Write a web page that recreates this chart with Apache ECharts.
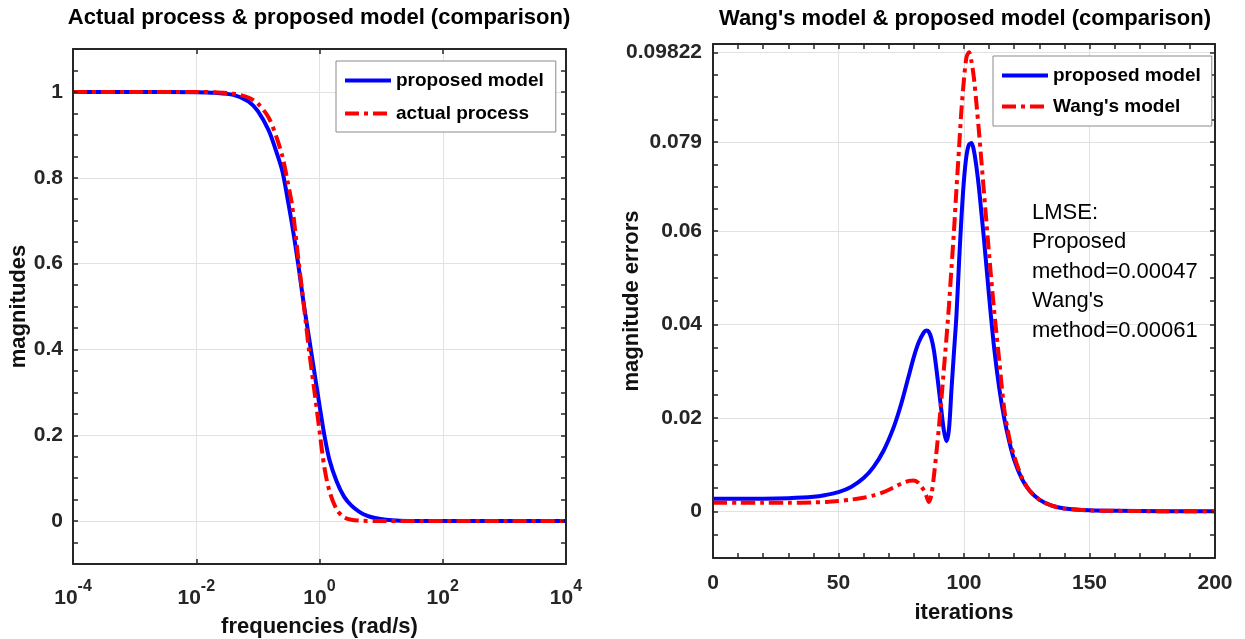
<!DOCTYPE html>
<html>
<head>
<meta charset="utf-8">
<script src="https://cdn.jsdelivr.net/npm/echarts@6/dist/echarts.min.js"></script>
<style>
  html, body { margin: 0; padding: 0; background: #fff; }
  #chart { width: 1245px; height: 639px; }
</style>
</head>
<body>
<div id="chart"></div>
<script>
const FONT = '"Liberation Sans", Arial, Helvetica, sans-serif';
const INK = '#262626';
const GRID_INK = '#e2e2e2';
const BLUE = '#0000ff';
const RED = '#ff0000';

// ---- Left panel: magnitude response over frequency (rad/s) ----
const frequencies = [1e-4, 1e-3, 0.01, 0.02, 0.04, 0.07, 0.1, 0.15, 0.2, 0.25, 0.3, 0.36, 0.45,
  0.55, 0.68, 0.85, 1.0, 1.2, 1.45, 1.9, 2.5, 3.3, 4.5, 6, 8, 12, 20, 50, 100, 1e3, 1e4];
const proposedMagnitude = [1, 1, 0.9995, 0.998, 0.993, 0.978, 0.955, 0.91, 0.86, 0.815, 0.755, 0.69, 0.60,
  0.51, 0.425, 0.335, 0.27, 0.20, 0.143, 0.092, 0.057, 0.036, 0.021, 0.012, 0.007, 0.003, 0.001, 0.0002, 0, 0, 0];
const actualMagnitude = [1, 1, 1, 0.999, 0.996, 0.987, 0.973, 0.94, 0.895, 0.85, 0.795, 0.735, 0.615,
  0.51, 0.395, 0.29, 0.21, 0.125, 0.07, 0.027, 0.009, 0.003, 0.001, 0.0003, 0.0001, 0, 0, 0, 0, 0, 0];

const freqLabelTicks = [1e-4, 1e-2, 1, 1e2, 1e4];
const freqGridTicks = [1e-2, 1, 1e2];
const magLabelTicks = [0, 0.2, 0.4, 0.6, 0.8, 1];
const magGridTicks = [0, 0.2, 0.4, 0.6, 0.8, 1];
const magTickMarks = [-0.05, 0, 0.05, 0.1, 0.15, 0.2, 0.25, 0.3, 0.35, 0.4, 0.45, 0.5, 0.55,
  0.6, 0.65, 0.7, 0.75, 0.8, 0.85, 0.9, 0.95, 1, 1.05];

// ---- Right panel: magnitude errors over iterations ----
const iterations = [0, 10, 20, 30, 40, 45, 50, 55, 60, 64, 68, 72, 75, 78, 80, 82, 84, 85, 86, 87, 88, 89,
  90, 91, 92, 93, 94, 95, 96, 97, 98, 99, 100, 101, 102, 103, 104, 105, 106, 107, 108, 110, 112, 114,
  116, 118, 120, 123, 126, 130, 135, 140, 150, 160, 180, 200];
const proposedError = [0.0027, 0.0027, 0.0027, 0.0028, 0.0031, 0.0035, 0.0041, 0.0052, 0.0071, 0.0095,
  0.013, 0.018, 0.023, 0.029, 0.033, 0.0362, 0.0383, 0.0387, 0.0384, 0.037, 0.0345, 0.0305,
  0.026, 0.0215, 0.0172, 0.015, 0.0175, 0.026, 0.034, 0.042, 0.053, 0.063, 0.071, 0.0762, 0.0785,
  0.0788, 0.077, 0.0735, 0.069, 0.0635, 0.058, 0.046, 0.035, 0.0265,
  0.02, 0.015, 0.011, 0.007, 0.0045, 0.0025, 0.0012, 0.0006, 0.0002, 0.0001, 0, 0];
const wangError = [0.0018, 0.0018, 0.0018, 0.0018, 0.0019, 0.002, 0.0022, 0.0025, 0.0029, 0.0034,
  0.0041, 0.0051, 0.0059, 0.0065, 0.0066, 0.006, 0.0045, 0.0033, 0.002, 0.0035, 0.0075, 0.0125,
  0.018, 0.024, 0.0305, 0.037, 0.044, 0.052, 0.06, 0.069, 0.0775, 0.086, 0.0925, 0.0972, 0.09822,
  0.0962, 0.0925, 0.087, 0.081, 0.0745, 0.068, 0.055, 0.043, 0.0325,
  0.022, 0.0158, 0.0118, 0.0073, 0.0045, 0.0025, 0.0012, 0.0006, 0.0002, 0.0001, 0, 0];

const iterLabelTicks = [0, 50, 100, 150, 200];
const iterGridTicks = [50, 100, 150];
const iterTickMarks = [0, 10, 20, 30, 40, 50, 60, 70, 80, 90, 100, 110, 120, 130, 140, 150, 160,
  170, 180, 190, 200];
const errLabelTicks = [0, 0.02, 0.04, 0.06, 0.079, 0.09822];
const errGridTicks = [0, 0.02, 0.04, 0.06, 0.079, 0.09822];
const errTickMarks = [-0.005, 0, 0.005, 0.01, 0.015, 0.02, 0.025, 0.03, 0.035, 0.04, 0.045, 0.05,
  0.055, 0.06, 0.06475, 0.0695, 0.07425, 0.079, 0.083805, 0.08861, 0.093415, 0.09822];

const lmseNote = ['LMSE:', 'Proposed', 'method=0.00047', "Wang's", 'method=0.00061'];

const tickLabelStyle = { fontFamily: FONT, fontSize: 21, fontWeight: 'bold', color: INK };
const axisNameStyle = { fontFamily: FONT, fontSize: 22, fontWeight: 'bold', color: '#111' };

// Box edge with inward ticks (MATLAB-style frame)
function frameAxis(opts) {
  return Object.assign({
    axisLine: { show: true, onZero: false, lineStyle: { color: INK, width: 2 } },
    axisTick: { show: true, inside: true, length: 5, customValues: opts.marks,
      lineStyle: { color: INK, width: 1.5 } },
    axisLabel: { show: false },
    splitLine: { show: false },
    nameMoveOverlap: false,
    z: 4
  }, opts.base);
}
// Invisible axis that only draws the light grid lines
function gridAxis(opts) {
  return Object.assign({
    axisLine: { show: false },
    axisTick: { show: false, customValues: opts.lines },
    axisLabel: { show: false },
    splitLine: { show: true, lineStyle: { color: GRID_INK, width: 1 } },
    z: 1
  }, opts.base);
}

const logX = { type: 'log', logBase: 10, min: 1e-4, max: 1e4, gridIndex: 0 };
const iterX = { type: 'value', min: 0, max: 200, gridIndex: 1 };
const magY = { type: 'value', min: -0.1, max: 1.1, gridIndex: 0 };
const errY = { type: 'value', min: -0.01, max: 0.1, gridIndex: 1 };

const xAxes = [
  // left panel: bottom (labelled), top, grid lines
  Object.assign(frameAxis({ base: Object.assign({ position: 'bottom' }, logX), marks: freqLabelTicks }), {
    name: 'frequencies (rad/s)', nameLocation: 'middle', nameGap: 52, nameTextStyle: axisNameStyle,
    axisLabel: {
      show: true, customValues: freqLabelTicks, margin: 15,
      formatter: v => '{b|10}{s|' + Math.round(Math.log10(v)) + '}',
      rich: {
        b: { fontFamily: FONT, fontSize: 21, fontWeight: 'bold', color: INK, lineHeight: 38, verticalAlign: 'middle' },
        s: { fontFamily: FONT, fontSize: 16, fontWeight: 'bold', color: INK, lineHeight: 16, verticalAlign: 'top' }
      }
    }
  }),
  frameAxis({ base: Object.assign({ position: 'top' }, logX), marks: freqLabelTicks }),
  gridAxis({ base: Object.assign({ position: 'bottom' }, logX), lines: freqGridTicks }),
  // right panel
  Object.assign(frameAxis({ base: Object.assign({ position: 'bottom' }, iterX), marks: iterTickMarks }), {
    name: 'iterations', nameLocation: 'middle', nameGap: 44, nameTextStyle: axisNameStyle,
    axisLabel: Object.assign({ show: true, customValues: iterLabelTicks, margin: 15 }, tickLabelStyle)
  }),
  frameAxis({ base: Object.assign({ position: 'top' }, iterX), marks: iterTickMarks }),
  gridAxis({ base: Object.assign({ position: 'bottom' }, iterX), lines: iterGridTicks })
];

const yAxes = [
  Object.assign(frameAxis({ base: Object.assign({ position: 'left' }, magY), marks: magTickMarks }), {
    name: 'magnitudes', nameLocation: 'middle', nameGap: 43, nameTextStyle: axisNameStyle,
    axisLabel: Object.assign({ show: true, customValues: magLabelTicks, margin: 10,
      formatter: v => String(v) }, tickLabelStyle)
  }),
  frameAxis({ base: Object.assign({ position: 'right' }, magY), marks: magTickMarks }),
  gridAxis({ base: Object.assign({ position: 'left' }, magY), lines: magGridTicks }),
  Object.assign(frameAxis({ base: Object.assign({ position: 'left' }, errY), marks: errTickMarks }), {
    name: 'magnitude errors', nameLocation: 'middle', nameGap: 70, nameTextStyle: axisNameStyle,
    axisLabel: Object.assign({ show: true, customValues: errLabelTicks, margin: 11,
      formatter: v => String(v) }, tickLabelStyle)
  }),
  frameAxis({ base: Object.assign({ position: 'right' }, errY), marks: errTickMarks }),
  gridAxis({ base: Object.assign({ position: 'left' }, errY), lines: errGridTicks })
];

function pairs(xs, ys) { return xs.map((x, i) => [x, ys[i]]); }

const legendText = { fontFamily: FONT, fontSize: 19, fontWeight: 'bold', color: '#000' };
const legendBase = {
  orient: 'vertical', itemWidth: 46, itemHeight: 20, backgroundColor: '#fff',
  borderColor: '#8a8a8a', borderWidth: 1, borderRadius: 0, textStyle: legendText,
  lineStyle: { width: 4 }, itemStyle: { opacity: 0 }, selectedMode: false, z: 10
};

const option = {
  animation: false,
  backgroundColor: '#fff',
  title: [
    { text: 'Actual process & proposed model (comparison)', left: 319, top: 7, textAlign: 'center', padding: 0,
      textStyle: { fontFamily: FONT, fontSize: 22, fontWeight: 'bold', color: '#000' } },
    { text: "Wang's model & proposed model (comparison)", left: 965, top: 8, textAlign: 'center', padding: 0,
      textStyle: { fontFamily: FONT, fontSize: 22, fontWeight: 'bold', color: '#000' } }
  ],
  grid: [
    { left: 73, top: 49, width: 493, height: 515, containLabel: false, outerBoundsMode: 'none' },
    { left: 713, top: 44, width: 502, height: 514, containLabel: false, outerBoundsMode: 'none' }
  ],
  legend: [
    Object.assign({ left: 336, top: 61, itemGap: 14, padding: [10, 12, 9, 7],
      data: ['proposed model', 'actual process'] }, legendBase),
    Object.assign({ left: 993, top: 56, itemGap: 12, padding: [10, 11, 10, 7],
      data: ['proposed model', "Wang's model"] }, legendBase)
  ],
  xAxis: xAxes,
  yAxis: yAxes,
  series: [
    { name: 'proposed model', type: 'line', xAxisIndex: 0, yAxisIndex: 0, data: pairs(frequencies, proposedMagnitude),
      symbol: 'none', smooth: 0.3, z: 2, lineStyle: { color: BLUE, width: 4 }, itemStyle: { color: BLUE } },
    { name: 'actual process', type: 'line', xAxisIndex: 0, yAxisIndex: 0, data: pairs(frequencies, actualMagnitude),
      symbol: 'none', smooth: 0.3, z: 3, lineStyle: { color: RED, width: 4, type: [14, 5, 4, 5] }, itemStyle: { color: RED } },
    { name: 'proposed model', type: 'line', xAxisIndex: 3, yAxisIndex: 3, data: pairs(iterations, proposedError),
      symbol: 'none', smooth: 0.3, z: 2, lineStyle: { color: BLUE, width: 4 }, itemStyle: { color: BLUE } },
    { name: "Wang's model", type: 'line', xAxisIndex: 3, yAxisIndex: 3, data: pairs(iterations, wangError),
      symbol: 'none', smooth: 0.3, z: 3, lineStyle: { color: RED, width: 4, type: [14, 5, 4, 5] }, itemStyle: { color: RED } }
  ],
  graphic: [
    { type: 'text', left: 1032, top: 198, z: 10,
      style: { text: lmseNote.join('\n'), font: '22px "Liberation Sans", Arial, sans-serif', lineHeight: 29.5, fill: '#000' } }
  ]
};

const chart = echarts.init(document.getElementById('chart'), null, { renderer: 'canvas' });
chart.setOption(option);
</script>
</body>
</html>
